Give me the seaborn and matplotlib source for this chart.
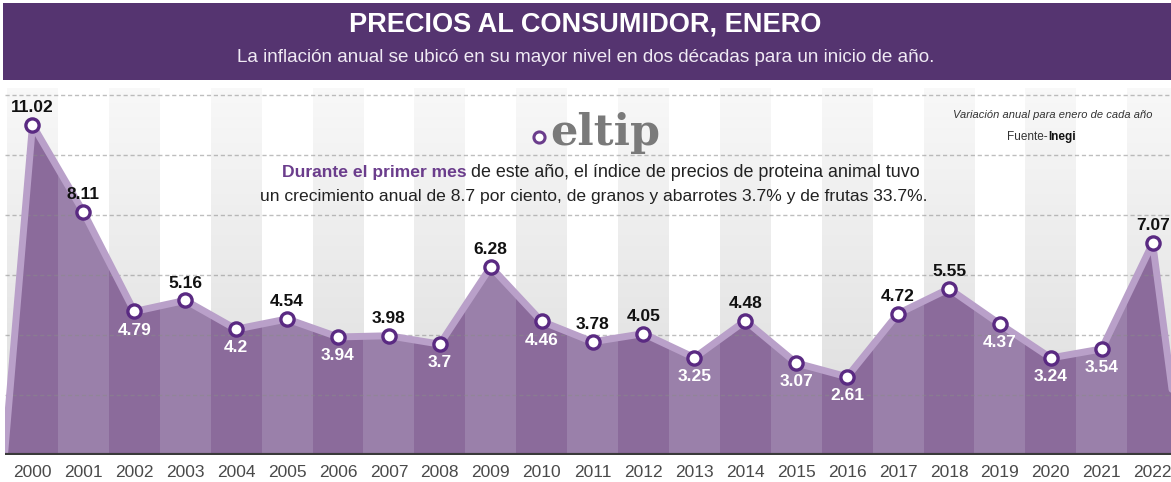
import numpy as np
import matplotlib
matplotlib.use("Agg")
import matplotlib.pyplot as plt
import seaborn as sns
from matplotlib.patches import Rectangle, Polygon
from matplotlib.colors import LinearSegmentedColormap

# datos: inflación anual en enero de cada año (Inegi)
years = list(range(2000, 2023))
inflacion = [11.02, 8.11, 4.79, 5.16, 4.20, 4.54, 3.94, 3.98, 3.70, 6.28, 4.46,
             3.78, 4.05, 3.25, 4.48, 3.07, 2.61, 4.72, 5.55, 4.37, 3.24, 3.54, 7.07]
etiquetas = ["11.02", "8.11", "4.79", "5.16", "4.2", "4.54", "3.94", "3.98", "3.7",
             "6.28", "4.46", "3.78", "4.05", "3.25", "4.48", "3.07", "2.61", "4.72",
             "5.55", "4.37", "3.24", "3.54", "7.07"]
arriba = [1, 1, 0, 1, 0, 1, 0, 1, 0, 1, 0, 1, 1, 0, 1, 0, 0, 1, 1, 0, 0, 0, 1]

sns.set_style("white")
plt.rcParams['font.family'] = ['Liberation Sans', 'DejaVu Sans']

W, H = 1171, 482
fig = plt.figure(figsize=(W / 100, H / 100), dpi=100)
fig.patch.set_facecolor("white")

# header morado
fig.patches.append(Rectangle((3 / W, 1 - 80 / H), 1, 77 / H, transform=fig.transFigure,
                             facecolor="#553470", edgecolor="none", zorder=0))
fig.text(0.5, 1 - 25 / H, "PRECIOS AL CONSUMIDOR, ENERO", color="white",
         fontsize=19.5, fontweight="bold", ha="center", va="center")
fig.text(0.5, 1 - 57 / H,
         "La inflación anual se ubicó en su mayor nivel en dos décadas para un inicio de año.",
         color="#f0eaf4", fontsize=13.6, ha="center", va="center")

px_per_unit = 29.96
top_px, base_px = 88, 455
ax = fig.add_axes([5 / W, 1 - base_px / H, 1 - 5 / W, (base_px - top_px) / H])
ymax = (base_px - top_px) / px_per_unit
ax.set_xlim(years[0] - 0.54, years[-1] + 0.36)
ax.set_ylim(0, ymax)

# franjas grises con degradado en años pares
grad = LinearSegmentedColormap.from_list("g", ["#dcdcdc", "#f8f8f8"])
g = np.linspace(0, 1, 100).reshape(-1, 1)
for yr in years:
    if yr % 2 == 0:
        ax.imshow(g, cmap=grad, aspect="auto", origin="lower",
                  extent=[yr - 0.5, yr + 0.5, 0, ymax], zorder=0)

# área bajo la curva
xs = [years[0] - 0.55] + years + [years[-1] + 0.55]
ys = [0] + inflacion + [0]
verts = list(zip(xs, ys))
ax.add_patch(Polygon(verts, closed=True, facecolor="#9a80aa", edgecolor="none", zorder=1))
for yr in years:
    if yr % 2 == 0:
        p = Polygon(verts, closed=True, facecolor="#8b6b9b", edgecolor="none", zorder=1.1)
        ax.add_patch(p)
        clip = Rectangle((yr - 0.5, 0), 1, ymax, transform=ax.transData)
        p.set_clip_path(clip)

# cuadrícula punteada
for v in range(2, 13, 2):
    ax.axhline(v, color="#8a8a8a", lw=1, ls=(0, (3, 2)), alpha=0.55, zorder=1.5)

ax.plot(xs, ys, color="#b9a0c9", lw=5, solid_joinstyle="round", zorder=2)
sns.lineplot(x=years, y=inflacion, ax=ax, color="#b9a0c9", lw=0, marker="o",
             markersize=9.5, markerfacecolor="white", markeredgecolor="#5a2a82",
             markeredgewidth=2.4, zorder=3)

ax.axhline(0, color="#3a3a3a", lw=3, zorder=4)

for yr, v, lab, up in zip(years, inflacion, etiquetas, arriba):
    if up:
        ax.annotate(lab, (yr, v), xytext=(0, 12.5), textcoords="offset points",
                    ha="center", va="center", fontsize=12.5, fontweight="bold",
                    color="#111111", zorder=5)
    else:
        ax.annotate(lab, (yr, v), xytext=(0, -13.5), textcoords="offset points",
                    ha="center", va="center", fontsize=12.5, fontweight="bold",
                    color="white", zorder=5)

ax.set_xticks(years)
ax.set_xticklabels([str(y) for y in years], fontsize=12.5, color="#4a4a4a")
ax.tick_params(axis="x", length=0, pad=7)
ax.set_yticks([])
for s in ax.spines.values():
    s.set_visible(False)

# logo y texto
fig.add_artist(plt.Line2D([539 / W], [1 - 137 / H], transform=fig.transFigure,
                          marker="o", markersize=8, markerfacecolor="white",
                          markeredgecolor="#6b3d8c", markeredgewidth=2.2, lw=0))
fig.text(550 / W, 1 - 133 / H, "eltip", color="#7a7a7a", fontsize=31, fontweight="bold",
         ha="left", va="center", family=["DejaVu Serif"])

fig.text(467 / W, 1 - 172 / H, "Durante el primer mes", color="#6b3d8c", fontsize=12.6,
         fontweight="bold", ha="right", va="center")
fig.text(471 / W, 1 - 172 / H, "de este año, el índice de precios de proteina animal tuvo",
         color="#222222", fontsize=12.9, ha="left", va="center")
fig.text(594 / W, 1 - 197 / H,
         "un crecimiento anual de 8.7 por ciento, de granos y abarrotes 3.7% y de frutas 33.7%.",
         color="#222222", fontsize=12.6, ha="center", va="center")

fig.text(1053 / W, 1 - 115 / H, "Variación anual para enero de cada año", color="#333333",
         fontsize=8, style="italic", ha="center", va="center")
fig.text(1048 / W, 1 - 137 / H, "Fuente-", color="#333333", fontsize=8.5,
         ha="right", va="center")
fig.text(1048 / W, 1 - 137 / H, "Inegi", color="#111111", fontsize=8.5,
         fontweight="bold", ha="left", va="center")

fig.savefig("out.png", dpi=100)
